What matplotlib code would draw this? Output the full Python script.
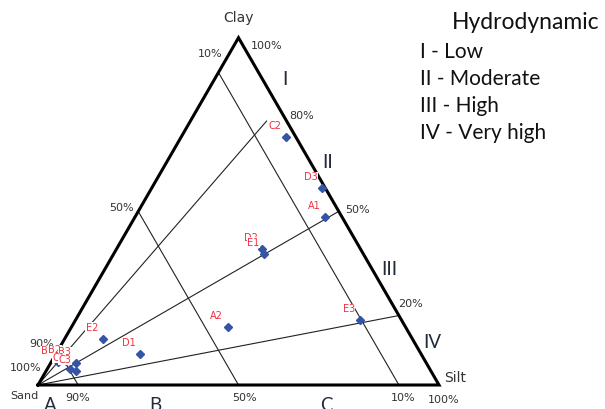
import numpy as np
import matplotlib.pyplot as plt

# grain size composition of each sample (%)
samples = ['C2', 'D3', 'A1', 'D2', 'E1', 'A2', 'E3', 'E2', 'D1',
           'B1', 'B2', 'B3', 'C1', 'C3']
sand = [2.5, 1.0, 4.2, 24.5, 24.7, 44.3, 10.4, 77.1, 70.1,
        91.7, 89.6, 87.4, 89.7, 88.5]
silt = [26.0, 42.4, 47.4, 36.3, 37.5, 39.0, 70.9, 9.6, 21.0,
        1.7, 3.5, 6.3, 5.7, 7.5]
clay = [71.5, 56.6, 48.4, 39.2, 37.8, 16.7, 18.7, 13.3, 8.9,
        6.6, 6.9, 6.3, 4.6, 4.0]

sand_levels = [10, 50, 90]          # lines of constant sand content
clay_ratios = [80, 50, 20]          # clay share of the mud fraction
ratio_end_sand = [5, 0, 0]          # where each ratio line stops
hydro_labels = ['I - Low', 'II - Moderate', 'III - High', 'IV - Very high']

H = np.sqrt(3) / 2


def tern(sa, si, cl):
    tot = sa + si + cl
    si = np.asarray(si) / tot
    cl = np.asarray(cl) / tot
    return si + cl / 2, cl * H


fig = plt.figure(figsize=(6.05, 4.09), dpi=100)
ax = fig.add_axes([0, 0, 1, 1])
ax.set_xlim(-38 / 401, 567 / 401)
ax.set_ylim(-24 / 401, 385 / 401)
ax.axis('off')

# triangle frame
ax.plot([0, 1, 0.5, 0], [0, 0, H, 0], color='black', lw=2.2,
        solid_joinstyle='miter', zorder=3)

# sand content lines, parallel to the clay-silt side
for s in sand_levels:
    x0, y0 = tern(s, 0, 100 - s)
    x1, y1 = tern(s, 100 - s, 0)
    ax.plot([x0, x1], [y0, y1], color='#222222', lw=0.8, zorder=2)

# mud ratio lines from the sand corner
for r, s_end in zip(clay_ratios, ratio_end_sand):
    mud = 100 - s_end
    x1, y1 = tern(s_end, mud * (100 - r) / 100, mud * r / 100)
    ax.plot([0, x1], [0, y1], color='#222222', lw=0.8, zorder=2)

# samples
xs, ys = tern(np.array(sand), np.array(silt), np.array(clay))
ax.plot(xs, ys, 'D', color='#3554a6', ms=4.5, mec='#3554a6', zorder=4,
        linestyle='none')
for name, x, y in zip(samples, xs, ys):
    ax.annotate(name, (x, y), xytext=(-8, 8), textcoords='offset points',
                ha='center', va='center', fontsize=7, color='#f0303f',
                bbox=dict(fc='white', ec='none', pad=0.3), zorder=5)

# corner names and percentage marks
pct = dict(fontsize=8, color='#333333', ha='center', va='center')
ax.text(0.499, 0.915, 'Clay', fontsize=10, color='#333333', ha='center', va='center')
ax.text(-0.035, -0.027, 'Sand', **pct)
ax.text(1.040, 0.017, 'Silt', fontsize=10, color='#333333', ha='center', va='center')
ax.text(0.569, 0.845, '100%', **pct)
ax.text(0.429, 0.825, '10%', **pct)
ax.text(0.658, 0.671, '80%', **pct)
ax.text(0.796, 0.436, '50%', **pct)
ax.text(0.928, 0.202, '20%', **pct)
ax.text(0.207, 0.441, '50%', **pct)
ax.text(0.010, 0.102, '90%', **pct)
ax.text(-0.032, 0.042, '100%', **pct)
ax.text(0.100, -0.032, '90%', **pct)
ax.text(0.514, -0.032, '50%', **pct)
ax.text(0.910, -0.032, '10%', **pct)
ax.text(1.012, -0.037, '100%', **pct)

big = dict(family='Lato', fontsize=13.5, color='#222a3a', ha='center', va='center')
ax.text(0.030, -0.052, 'A', **big)
ax.text(0.292, -0.052, 'B', **big)
ax.text(0.718, -0.052, 'C', **big)
ax.text(0.616, 0.761, 'I', **big)
ax.text(0.723, 0.556, 'II', **big)
ax.text(0.875, 0.287, 'III', **big)
ax.text(0.983, 0.105, 'IV', **big)

# hydrodynamic legend
ax.text(1.217, 0.905, 'Hydrodynamic', family='Lato', fontsize=16.5,
        color='#111111', ha='center', va='center')
for i, lab in enumerate(hydro_labels):
    ax.text(0.952, 0.830 - i * 0.0675, lab, family='Lato', fontsize=15,
            color='#111111', ha='left', va='center')

fig.savefig('out.png', dpi=100)
